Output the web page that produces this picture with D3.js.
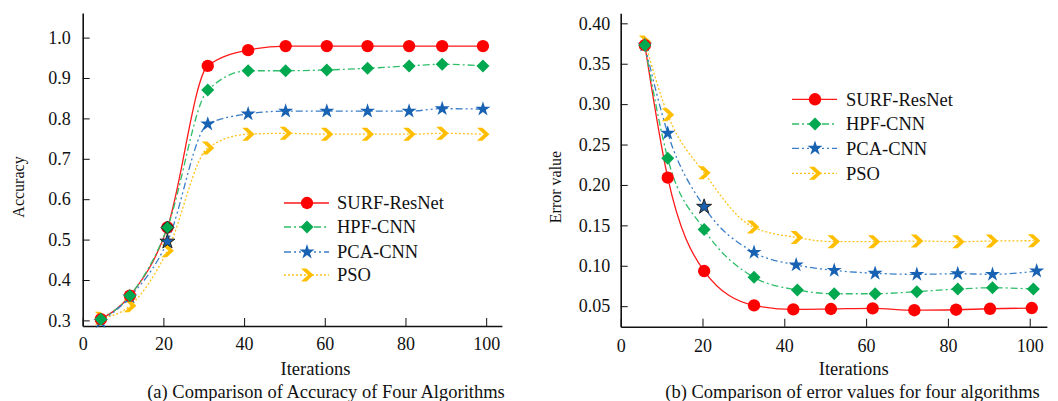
<!DOCTYPE html>
<html>
<head>
<meta charset="utf-8">
<script src="https://cdn.jsdelivr.net/npm/d3@7"></script>
<style>
  html, body { margin: 0; padding: 0; background: #fff; }
  svg { display: block; font-family: "Liberation Serif", "Times New Roman", serif; }
  .axis path, .axis line { stroke: #111; }
  .axis text { font-family: "Liberation Serif", "Times New Roman", serif; font-size: 18px; fill: #111; }
</style>
</head>
<body>
<svg id="chart" width="1058" height="401"></svg>
<script>
// ---- data ----
const seriesNames = ["SURF-ResNet", "HPF-CNN", "PCA-CNN", "PSO"];

// (a) accuracy
const accIter = [4.5, 11.7, 21, 31, 41, 50.3, 60.5, 70.6, 80.9, 89.1, 99.2];
const accSurf = [0.303, 0.361, 0.530, 0.930, 0.969, 0.979, 0.979, 0.979, 0.979, 0.979, 0.979];
const accHpf = [0.303, 0.361, 0.530, 0.870, 0.918, 0.918, 0.920, 0.924, 0.930, 0.934, 0.930];
const accPca = [0.297, 0.358, 0.495, 0.786, 0.811, 0.818, 0.818, 0.818, 0.818, 0.824, 0.823];
const accPso = [0.305, 0.336, 0.4725, 0.727, 0.761, 0.763, 0.761, 0.761, 0.761, 0.763, 0.761];
const accTicks = [0.3, 0.4, 0.5, 0.6, 0.7, 0.8, 0.9, 1.0];

// (b) error value
const errIterSurf = [5.9, 11.5, 20.4, 32.6, 42.2, 51.4, 61.6, 71.8, 82.0, 90.3, 100.5];
const errIterHpf = [5.9, 11.5, 20.4, 32.6, 43.2, 52.2, 62.2, 72.4, 82.4, 90.9, 100.9];
const errIterPca = [5.9, 11.5, 20.4, 32.6, 42.9, 52.2, 62.2, 72.4, 82.4, 90.9, 101.7];
const errIterPso = [5.9, 11.5, 20.4, 32.3, 43, 52, 61.9, 72.4, 82.5, 90.7, 101];
const errSurf = [0.373, 0.209, 0.0935, 0.051, 0.046, 0.0465, 0.0473, 0.045, 0.0456, 0.0468, 0.0477];
const errHpf = [0.373, 0.233, 0.145, 0.0857, 0.070, 0.0654, 0.0654, 0.068, 0.0712, 0.0728, 0.0712];
const errPca = [0.373, 0.264, 0.173, 0.1166, 0.101, 0.0943, 0.0907, 0.0894, 0.0902, 0.0894, 0.0935];
const errPso = [0.377, 0.287, 0.215, 0.148, 0.135, 0.1298, 0.1298, 0.1306, 0.1298, 0.1306, 0.131];
const errTicks = [0.05, 0.10, 0.15, 0.20, 0.25, 0.30, 0.35, 0.40];

const iterTicks = [0, 20, 40, 60, 80, 100];

// ---- styles ----
const styles = [
  { color: "#ff0000", line: "#ff1a1a", dash: null, symbol: "circle" },
  { color: "#00a84f", line: "#2fbf6a", dash: "7,3,2,3", symbol: "diamond" },
  { color: "#1862b3", line: "#3a7fc8", dash: "7,3,2,3,2,3", symbol: "star" },
  { color: "#ffbf00", line: "#ffc21a", dash: "2,2", symbol: "chevron" },
];

const markerPath = (type) => {
  if (type === "circle") return d3.symbol(d3.symbolCircle, 120)();
  if (type === "star") return d3.symbol(d3.symbolStar, 70)();
  if (type === "diamond") return "M0,-6.5L6.5,0L0,6.5L-6.5,0Z";
  // chevron ">"
  return "M-6,-6.5L-0.5,-6.5L6.5,0L-0.5,6.5L-6,6.5L1,0Z";
};

const svg = d3.select("#chart");

const drawPanel = (cfg) => {
  const x = d3.scaleLinear().domain(cfg.xDomain).range(cfg.xRange);
  const y = d3.scaleLinear().domain(cfg.yDomain).range(cfg.yRange);
  const g = svg.append("g");

  g.append("g")
    .attr("class", "axis")
    .attr("transform", `translate(0,${cfg.yRange[0]})`)
    .call(d3.axisBottom(x).tickValues(iterTicks).tickSizeInner(-8).tickSizeOuter(0).tickPadding(cfg.xPad))
    .call((a) => a.select(".domain").attr("stroke-width", 1.6));

  g.append("g")
    .attr("class", "axis")
    .attr("transform", `translate(${cfg.xRange[0]},0)`)
    .call(d3.axisLeft(y).tickValues(cfg.yTicks).tickFormat(d3.format(cfg.fmt)).tickSizeInner(-7).tickSizeOuter(0).tickPadding(cfg.yPad))
    .call((a) => a.select(".domain").attr("stroke-width", 1.6));

  const line = d3.line()
    .x((d) => x(d[0]))
    .y((d) => y(d[1]))
    .curve(d3.curveMonotoneX);

  cfg.series.forEach((s, i) => {
    const st = styles[i];
    g.append("path")
      .datum(d3.zip(s.xs, s.ys))
      .attr("fill", "none")
      .attr("stroke", st.line)
      .attr("stroke-width", 1.3)
      .attr("stroke-dasharray", st.dash)
      .attr("d", line);
  });

  // markers: drawn so HPF ends on top, as in the figure
  [3, 2, 0, 1].forEach((i) => {
    const s = cfg.series[i];
    const st = styles[i];
    g.selectAll(null)
      .data(d3.zip(s.xs, s.ys))
      .enter()
      .append("path")
      .attr("d", markerPath(st.symbol))
      .attr("transform", (d) => `translate(${x(d[0])},${y(d[1])})`)
      .attr("fill", st.color)
      .attr("stroke", (d, k) => (k === 2 && cfg.outlined.includes(i) ? "#222" : "none"))
      .attr("stroke-width", 1);
  });

  // legend
  const lg = g.append("g").attr("transform", `translate(${cfg.legend[0]},${cfg.legend[1]})`);
  seriesNames.forEach((name, i) => {
    const st = styles[i];
    const row = lg.append("g").attr("transform", `translate(0,${cfg.legendRows[i]})`);
    row.append("line")
      .attr("x1", 0).attr("x2", 45)
      .attr("stroke", st.line)
      .attr("stroke-width", 1.3)
      .attr("stroke-dasharray", st.dash);
    row.append("path")
      .attr("d", markerPath(st.symbol))
      .attr("transform", "translate(23,0)")
      .attr("fill", st.color);
    row.append("text")
      .attr("x", cfg.legendText)
      .attr("dy", "0.35em")
      .attr("font-size", 18.5)
      .attr("fill", "#111")
      .text(name);
  });

  g.append("text")
    .attr("transform", `translate(${cfg.yTitlePos[0]},${cfg.yTitlePos[1]}) rotate(-90)`)
    .attr("text-anchor", "middle")
    .attr("dy", "0.35em")
    .attr("font-size", 16)
    .attr("fill", "#111")
    .text(cfg.yTitle);

  g.append("text")
    .attr("x", cfg.xTitlePos[0])
    .attr("y", cfg.xTitlePos[1])
    .attr("text-anchor", "middle")
    .attr("dy", "0.35em")
    .attr("font-size", 18.5)
    .attr("fill", "#111")
    .text("Iterations");

  g.append("text")
    .attr("x", cfg.captionPos[0])
    .attr("y", cfg.captionPos[1])
    .attr("text-anchor", "middle")
    .attr("dy", "0.35em")
    .attr("font-size", 18.5)
    .attr("fill", "#111")
    .text(cfg.caption);
};

drawPanel({
  xDomain: [0, 103.9], xRange: [82.7, 501.9],
  yDomain: [0.2861, 1.0609], yRange: [326, 13],
  yTicks: accTicks, fmt: ".1f", xPad: 11, yPad: 12,
  series: [
    { xs: accIter, ys: accSurf },
    { xs: accIter, ys: accHpf },
    { xs: accIter, ys: accPca },
    { xs: accIter, ys: accPso },
  ],
  outlined: [1, 2],
  legend: [284, 0], legendRows: [203, 227, 252, 275], legendText: 53,
  yTitle: "Accuracy", yTitlePos: [18.5, 187],
  xTitlePos: [315.5, 368.5],
  caption: "(a) Comparison of Accuracy of Four Algorithms", captionPos: [326, 392],
});

drawPanel({
  xDomain: [0, 104.2], xRange: [620.7, 1046.9],
  yDomain: [0.0246, 0.4124], yRange: [326.7, 13.3],
  yTicks: errTicks, fmt: ".2f", xPad: 13, yPad: 10.5,
  series: [
    { xs: errIterSurf, ys: errSurf },
    { xs: errIterHpf, ys: errHpf },
    { xs: errIterPca, ys: errPca },
    { xs: errIterPso, ys: errPso },
  ],
  outlined: [2],
  legend: [792, 0], legendRows: [99.3, 124, 148.3, 173.3], legendText: 54,
  yTitle: "Error value", yTitlePos: [555, 187],
  xTitlePos: [853.7, 368.5],
  caption: "(b) Comparison of error values for four algorithms", captionPos: [852.5, 392],
});
</script>
</body>
</html>
